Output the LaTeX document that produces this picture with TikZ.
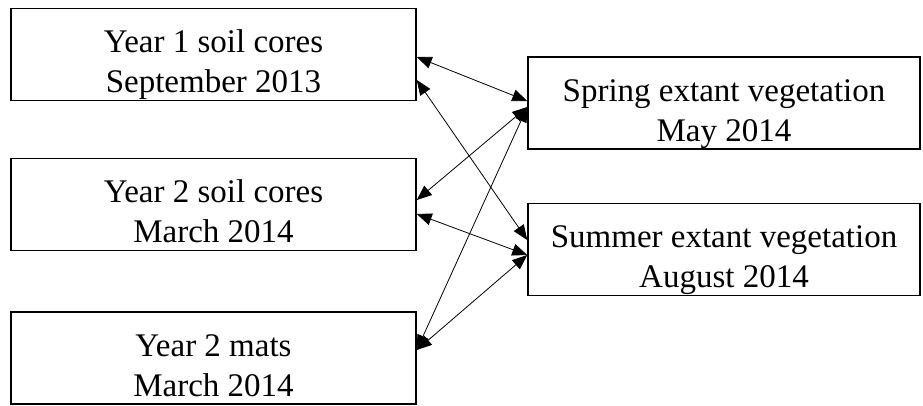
\documentclass[tikz,border=0pt]{standalone}
\usepackage{fontspec}
\setmainfont{Liberation Serif}
\usetikzlibrary{arrows.meta}
\newcommand{\dropstrut}{\rule{0pt}{44pt}}
\newcommand{\lowstrut}{\rule[-8pt]{0pt}{8pt}}
\begin{document}
\begin{tikzpicture}[x=1pt,y=-1pt,
  box/.style={draw,line width=1.5pt,inner sep=0pt,align=center,
    font=\fontsize{33}{40}\selectfont},
  lbox/.style={box,minimum width=405pt,minimum height=91pt},
  rbox/.style={box,minimum width=392pt,minimum height=92pt},
  link/.style={line width=0.8pt,
    {Triangle[length=15pt,width=12pt]}-{Triangle[length=15pt,width=12pt]}}]
\useasboundingbox (0,0) rectangle (923,405);
\node[lbox] (y1) at (213.5,54.5) {\dropstrut Year 1 soil cores\\September 2013\lowstrut};
\node[lbox] (y2) at (213.5,204.5) {\dropstrut Year 2 soil cores\\March 2014\lowstrut};
\node[lbox] (m) at (213.5,358) {\dropstrut Year 2 mats\\March 2014\lowstrut};
\node[rbox] (sp) at (724,103) {\dropstrut Spring extant vegetation\\May 2014\lowstrut};
\node[rbox] (su) at (724,249.5) {\dropstrut Summer extant vegetation\\August 2014\lowstrut};
\draw[link] ([yshift=-2.5pt]y1.east) -- ([yshift=2pt]sp.west);
\draw[link] ([yshift=-25.5pt]y1.east) -- ([yshift=9.5pt]su.west);
\draw[link] ([yshift=4.5pt]y2.east) -- ([yshift=-4pt]sp.west);
\draw[link] ([yshift=-9.5pt]y2.east) -- ([yshift=-5.5pt]su.west);
\draw[link] ([yshift=8pt]m.east) -- ([yshift=-4pt]sp.west);
\draw[link] ([yshift=8pt]m.east) -- ([yshift=-5.5pt]su.west);
\end{tikzpicture}
\end{document}
